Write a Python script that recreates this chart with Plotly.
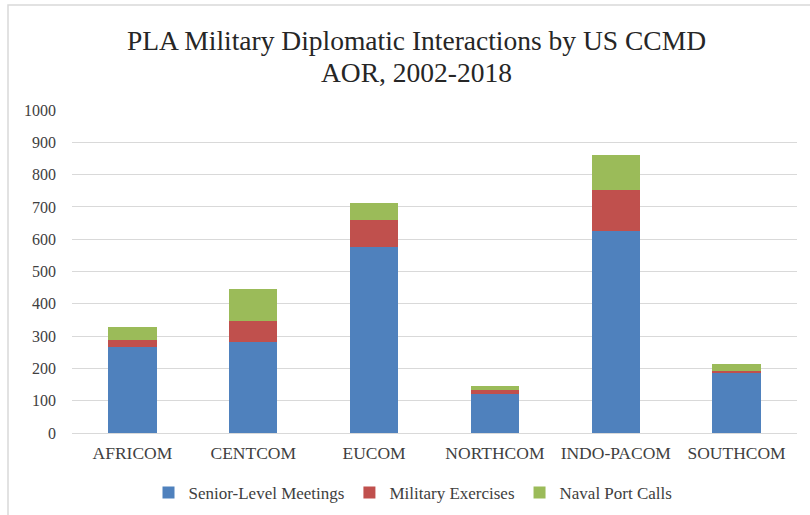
import plotly.graph_objects as go

categories = ["AFRICOM", "CENTCOM", "EUCOM", "NORTHCOM", "INDO-PACOM", "SOUTHCOM"]
senior_meetings = [267, 281, 577, 120, 626, 188]
military_exercises = [22, 67, 82, 14, 127, 4]
naval_port_calls = [40, 98, 53, 11, 107, 23]
y_ticks = [0, 100, 200, 300, 400, 500, 600, 700, 800, 900, 1000]
title_lines = ["PLA Military Diplomatic Interactions by US CCMD", "AOR, 2002-2018"]

FONT = "Liberation Serif"
L, T, W, H = 72, 110, 725, 323  # plot area in pixels


def px_x(x):
    return (x - L) / W


def px_y(y):
    return (T + H - y) / H


fig = go.Figure()
for name, vals, col in [
    ("Senior-Level Meetings", senior_meetings, "#4f81bd"),
    ("Military Exercises", military_exercises, "#c0504d"),
    ("Naval Port Calls", naval_port_calls, "#9bbb59"),
]:
    fig.add_trace(go.Bar(x=categories, y=vals, name=name,
                         marker=dict(color=col, line=dict(width=0))))

annotations = []
for i, line in enumerate(title_lines):
    annotations.append(dict(text=line, xref="paper", yref="paper",
                            x=px_x(416), y=px_y(41 + 31 * i),
                            xanchor="center", yanchor="middle", showarrow=False,
                            font=dict(family=FONT, size=27.5, color="#262626")))

fig.update_layout(
    barmode="stack",
    bargap=0.6,
    width=810, height=515,
    autosize=False,
    margin=dict(l=L, r=810 - L - W, t=T, b=515 - T - H, autoexpand=False),
    paper_bgcolor="white", plot_bgcolor="white",
    font=dict(family=FONT, color="#404040", size=16),
    annotations=annotations,
    showlegend=True,
    legend=dict(orientation="h", x=px_x(413), xanchor="center",
                y=px_y(493), yanchor="middle",
                font=dict(family=FONT, size=17, color="#404040"),
                traceorder="normal"),
    xaxis=dict(showgrid=False, showline=False, ticks="", tickangle=0,
               automargin=False, tickfont=dict(size=17.5), ticklabelstandoff=7),
    yaxis=dict(range=[0, 1000], tickvals=y_ticks, showgrid=True, gridcolor="#d9d9d9",
               gridwidth=1, zeroline=True, zerolinecolor="#d9d9d9", zerolinewidth=1,
               automargin=False, ticks="", tickfont=dict(size=16), ticklabelstandoff=15),
    shapes=[dict(type="rect", xref="paper", yref="paper",
                 x0=px_x(8), x1=1.2, y0=-0.5, y1=px_y(5),
                 line=dict(color="#d9d9d9", width=1.5), fillcolor="rgba(0,0,0,0)",
                 layer="below")],
)
fig.write_html("out.html", config={"displayModeBar": False},
               post_script="document.body.style.margin='0';")
